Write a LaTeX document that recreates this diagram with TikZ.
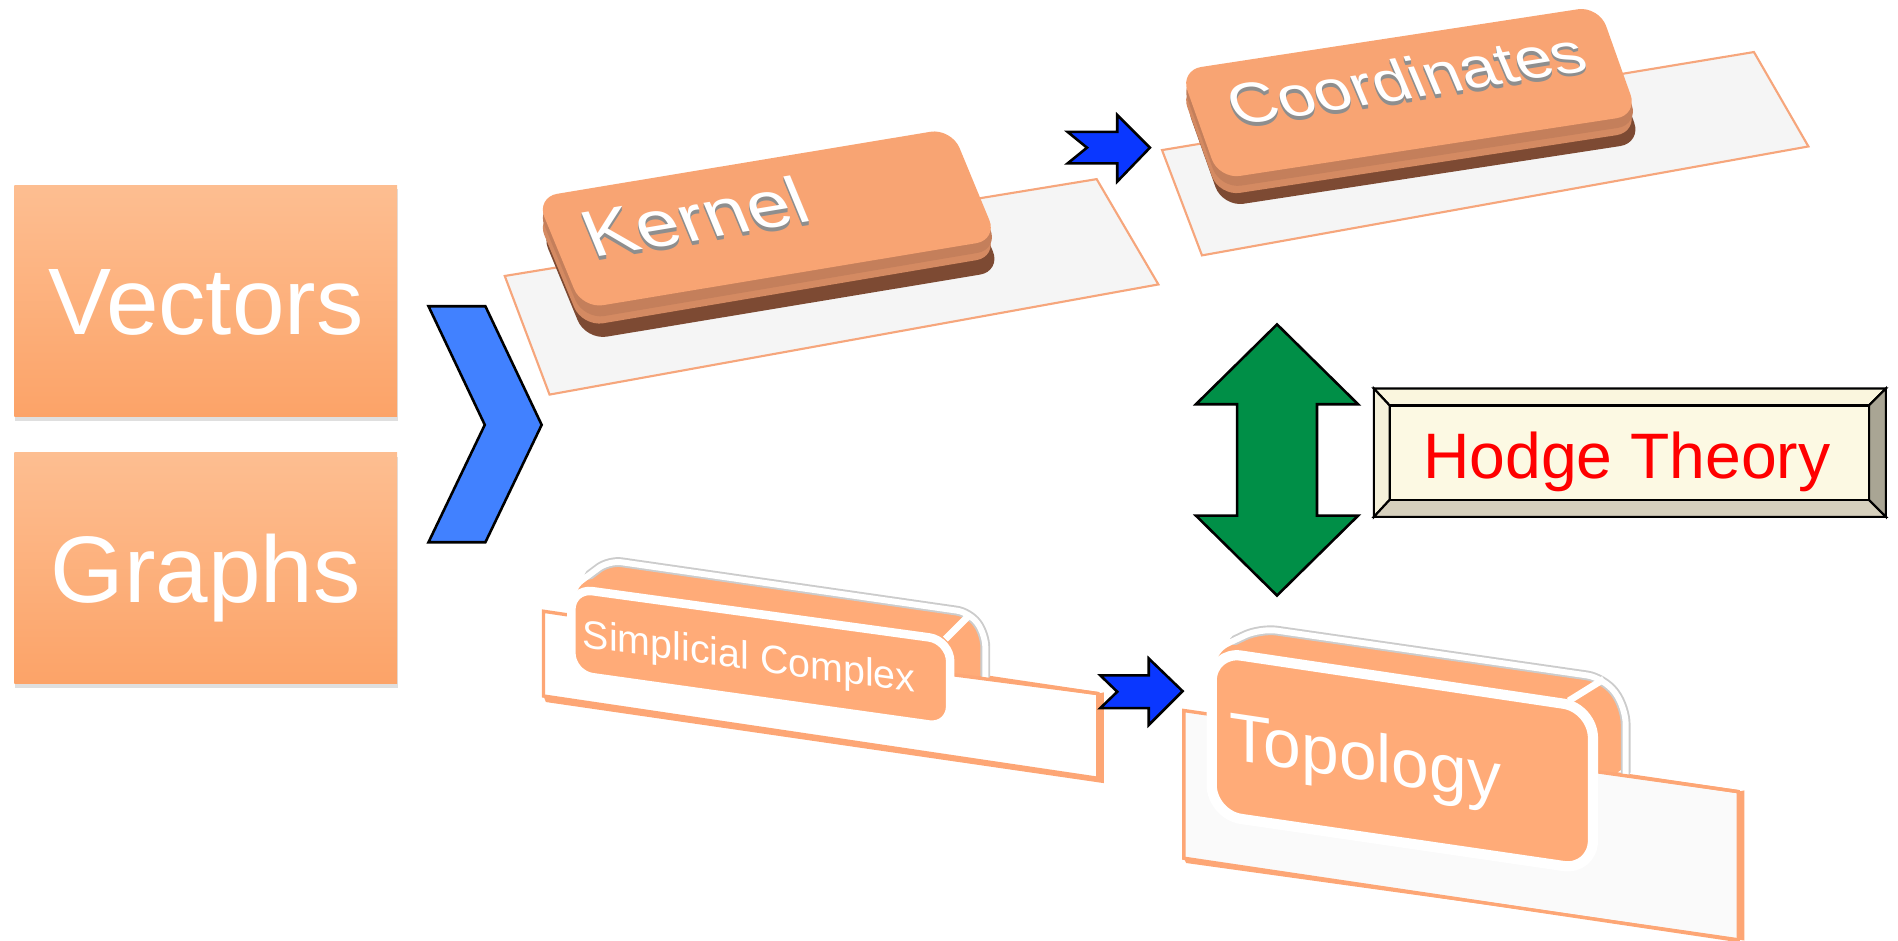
\documentclass[tikz,border=0pt]{standalone}
\usepackage{fontspec}
\setmainfont{Liberation Sans}
\usetikzlibrary{shadows}

\definecolor{boxtop}{HTML}{FDBE91}
\definecolor{boxbot}{HTML}{FCA368}
\definecolor{chev}{HTML}{4181FF}
\definecolor{arrblue}{HTML}{0A37FF}
\definecolor{hgreen}{HTML}{008F47}
\definecolor{keytop}{HTML}{F8A473}
\definecolor{keymid}{HTML}{C47F5B}
\definecolor{keydark}{HTML}{7D4A33}
\definecolor{keyside}{HTML}{D48A62}
\definecolor{plateline}{HTML}{F6A67C}
\definecolor{platefill}{HTML}{F5F5F5}
\definecolor{tabfill}{HTML}{FFAB78}
\definecolor{tabedge}{HTML}{FDA675}
\definecolor{hodgein}{HTML}{FCF9E3}
\definecolor{hodgetop}{HTML}{FAF6DE}
\definecolor{hodgeleft}{HTML}{F5F1DA}
\definecolor{hodgebot}{HTML}{D6D0BD}
\definecolor{hodgeright}{HTML}{A9A594}
\definecolor{txtshadow}{HTML}{8E8E8E}

\newcommand\setfs[1]{\fontsize{#1pt}{#1pt}\selectfont}

\begin{document}
\begin{tikzpicture}[x=0.01cm,y=-0.01cm,
  srcbox/.style={minimum width=3.16cm, minimum height=1.91cm, inner sep=0pt,
    top color=boxtop, bottom color=boxbot, text=white, font=\setfs{22.2},
    text height=0.56cm, text depth=0pt,
    drop shadow={shadow xshift=0.25pt, shadow yshift=-1pt, opacity=0.25}},
  plate/.style={fill=platefill, draw=plateline, line width=0.5pt},
  keyround/.style={rounded corners=5pt},
  kerneltext/.style={inner sep=0pt, anchor=base west, font=\setfs{18.2},
    cm={0.9865,0.164,-0.336,0.814,(0,0)}},
  coordtext/.style={inner sep=0pt, anchor=base west, font=\setfs{15.6},
    cm={0.9878,0.1561,-0.351,0.828,(0,0)}},
  tabrim/.style={draw=black!20, line width=2.3pt, line join=round, line cap=round},
  tabline/.style={draw=white, line width=1.4pt, line join=round},
  tabtext/.style={text=white, inner sep=0pt},
  blockarrow/.style={draw=black, line width=0.6pt, line join=miter},
  hodgebevel/.style={draw=black, line width=0.5pt},
]
\useasboundingbox (0,0) rectangle (1568,777);

% source boxes
\node[srcbox] (vectors) at (170,248.5) {Vectors};
\node[srcbox] (graphs) at (170,469.5) {Graphs};

% chevron
\path[blockarrow, fill=chev] (354,253) -- (401,253) -- (447.5,351) -- (401,448)
  -- (354,448) -- (400.5,351) -- cycle;

% Kernel key on its plate
\path[plate] (417,228) -- (906,148) -- (957,235) -- (454,326) -- cycle;
\fill[keydark, keyround] (446,189) -- (789,132) -- (827,224) -- (484,281) -- cycle;
\fill[keyside, keyround] (443,178) -- (786,121) -- (824,212) -- (481,270) -- cycle;
\fill[keymid, keyround] (443,170) -- (786,113) -- (825,206) -- (482,264) -- cycle;
\fill[keytop, keyround] (443,163) -- (786,106) -- (824,198) -- (481,255) -- cycle;
\foreach \d in {0.8,1.6,2.4,3.2}
  \node[kerneltext, text=txtshadow] (kernelsh\d) at (490,213+\d) {Kernel};
\node[kerneltext, text=white] (kernel) at (490,213) {Kernel};

% Coordinates key on its plate
\path[plate] (960,124) -- (1449,43) -- (1494,121) -- (993,211) -- cycle;
\fill[keydark, keyround] (978,81) -- (1324,28) -- (1356,118) -- (1010,171) -- cycle;
\fill[keyside, keyround] (975,72) -- (1321,19) -- (1353,109) -- (1007,162) -- cycle;
\fill[keymid, keyround] (975,65) -- (1321,12) -- (1354,103) -- (1008,156) -- cycle;
\fill[keytop, keyround] (975,58) -- (1321,5) -- (1353,95) -- (1007,148) -- cycle;
\foreach \d in {0.8,1.6,2.4,3.2}
  \node[coordtext, text=txtshadow] (coordsh\d) at (1022,104+\d) {Coordinates};
\node[coordtext, text=white] (coord) at (1022,104) {Coordinates};

% arrow Kernel -> Coordinates
\path[blockarrow, fill=arrblue] (882,109) -- (923,109) -- (923,95) -- (950,122)
  -- (923,150) -- (923,135) -- (882,135) -- (898,122) -- cycle;

% green double arrow
\path[blockarrow, fill=hgreen] (1055,268) -- (1122,334) -- (1088,334) -- (1088,426)
  -- (1122,426) -- (1055,492) -- (988,426) -- (1022,426) -- (1022,334) -- (988,334) -- cycle;

% Hodge Theory bevelled button
\path[hodgebevel, fill=hodgetop] (1135,321) -- (1558,321) -- (1544,335) -- (1148,335) -- cycle;
\path[hodgebevel, fill=hodgeleft] (1135,321) -- (1148,335) -- (1148,413) -- (1135,427) -- cycle;
\path[hodgebevel, fill=hodgebot] (1135,427) -- (1148,413) -- (1544,413) -- (1558,427) -- cycle;
\path[hodgebevel, fill=hodgeright] (1558,321) -- (1544,335) -- (1544,413) -- (1558,427) -- cycle;
\path[hodgebevel, fill=hodgein] (1148,335) rectangle (1544,413);
\node[anchor=base, text=red, font=\setfs{15.1}, inner sep=0pt] (hodge) at (1344,395) {Hodge Theory};

% Simplicial Complex tab: board, key, label
\path[fill=white, draw=tabedge, line width=0.8pt] (449,505) -- (907,573) -- (907,643) -- (449,575) -- cycle;
\fill[tabedge] (449,575) -- (907,643) -- (907,573) -- (912,572) -- (912,647) -- (451,580) -- cycle;
\fill[tabfill, rounded corners=3pt] (472,530) -- (472,486) -- (503,463) -- (801,506)
  -- (814,524) -- (814,561) [sharp corners] -- (785,557) -- (785,590) -- cycle;
\path[tabrim, rounded corners=3pt] (487,475) -- (503,463) -- (801,506) -- (814,524) -- (814,558);
\path[tabline, rounded corners=3pt] (472,500) -- (472,486) -- (503,463) -- (801,506) -- (814,524) -- (814,560);
\draw[tabedge, line width=0.8pt] (784,557) -- (907,573);
\path[fill=tabfill, draw=white, line width=2pt, rounded corners=5pt]
  (472,486) -- (785,529) -- (785,601) -- (472,557) -- cycle;
\draw[white, line width=1.6pt] (781,528) -- (801,508);
\node[tabtext, font=\setfs{9.25}, yslant=-0.137] (simplicial) at (619,545) {Simplicial Complex};

% arrow Simplicial Complex -> Topology
\path[blockarrow, fill=arrblue] (909,558) -- (949,558) -- (949,544) -- (977,571)
  -- (949,599) -- (949,585) -- (909,585) -- (923,571.5) -- cycle;

% Topology tab: board, key, label
\path[fill=black!2, draw=tabedge, line width=0.8pt] (978,587) -- (1436,654) -- (1436,777) -- (978,709) -- cycle;
\fill[tabedge] (978,709) -- (1436,775) -- (1436,654) -- (1441,653) -- (1441,777) -- (980,713) -- cycle;
\fill[tabfill, rounded corners=4pt] (1001,600) -- (1001,538) -- (1041,519) -- (1325,560)
  -- (1343,584) -- (1343,641) [sharp corners] -- (1316,637) -- (1316,660) -- cycle;
\path[tabrim, rounded corners=4pt] (1020,529) -- (1041,519) -- (1325,560) -- (1343,584) -- (1343,638);
\path[tabline, rounded corners=4pt] (1001,560) -- (1001,538) -- (1041,519) -- (1325,560) -- (1343,584) -- (1343,640);
\draw[tabedge, line width=0.8pt] (1315,637) -- (1436,654);
\path[fill=tabfill, draw=white, line width=2.4pt, rounded corners=7pt]
  (1001,538) -- (1316,585) -- (1316,719) -- (1001,673) -- cycle;
\draw[white, line width=1.6pt] (1296,579) -- (1325,561);
\node[tabtext, font=\setfs{15.9}, yslant=-0.15] (topology) at (1128,630) {Topology};

\end{tikzpicture}
\end{document}
